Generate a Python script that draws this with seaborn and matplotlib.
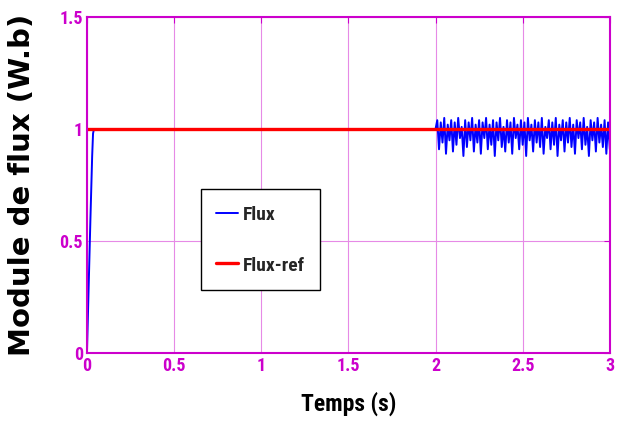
import numpy as np
import pandas as pd
import matplotlib
matplotlib.use("Agg")
import matplotlib.pyplot as plt
from matplotlib import font_manager
import seaborn as sns

# start-up of the flux (s, W.b)
t_rise = [0.0, 0.01, 0.02, 0.03, 0.035, 0.04, 2.0]
flux_rise = [0.0, 0.30, 0.60, 0.88, 0.98, 1.0, 1.0]

# ripple after t = 2 s, one sample every 10 ms
flux_ripple = [1.00, 1.04, 0.91, 1.03, 0.94, 1.05, 0.89, 1.02, 0.95, 1.04, 0.90,
               1.03, 0.93, 1.05, 0.96, 1.01, 0.88, 1.04, 0.92, 1.03, 0.95,
               1.05, 0.90, 1.02, 0.94, 1.04, 0.89, 1.03, 0.96, 1.05, 0.91,
               1.02, 0.93, 1.04, 0.88, 1.03, 0.95, 1.05, 0.92, 1.01, 0.90,
               1.04, 0.94, 1.03, 0.89, 1.05, 0.96, 1.02, 0.91, 1.04, 0.93,
               1.03, 0.88, 1.05, 0.95, 1.02, 0.90, 1.04, 0.94, 1.03, 0.92,
               1.05, 0.89, 1.01, 0.96, 1.04, 0.91, 1.03, 0.93, 1.05, 0.88,
               1.02, 0.95, 1.04, 0.90, 1.03, 0.94, 1.05, 0.92, 1.02, 0.89,
               1.04, 0.96, 1.03, 0.91, 1.05, 0.93, 1.01, 0.88, 1.04, 0.95,
               1.03, 0.90, 1.05, 0.94, 1.02, 0.92, 1.04, 0.89, 1.03, 0.91]
t_ripple = np.linspace(2.0, 3.0, len(flux_ripple))

t_ref = [0.0, 3.0]
flux_ref = [1.0, 1.0]

x_ticks = [0, 0.5, 1, 1.5, 2, 2.5, 3]
x_ticklabels = ["0", "0.5", "1", "1.5", "2", "2.5", "3"]
y_ticks = [0, 0.5, 1, 1.5]
y_ticklabels = ["0", "0.5", "1", "1.5"]

flux_df = pd.DataFrame({
    "t": list(t_rise) + list(t_ripple[1:]),
    "flux": flux_rise + flux_ripple[1:],
})
ref_df = pd.DataFrame({"t": t_ref, "flux": flux_ref})

sns.set_style("white")

# pick a condensed face if one is installed
installed = {f.name for f in font_manager.fontManager.ttflist}
cands = ["Liberation Sans Narrow", "Roboto Condensed", "Open Sans Condensed",
         "Liberation Sans"]
narrow_name = next((n for n in cands if n in installed), "DejaVu Sans")
narrow = [narrow_name, "DejaVu Sans"]
magenta = "#cc00cc"

fig = plt.figure(figsize=(6.21, 4.28), dpi=100)
ax = fig.add_axes([0.140, 0.175, 0.842, 0.785])

sns.lineplot(data=flux_df, x="t", y="flux", ax=ax, color="#0000ff", lw=1.4,
             sort=False, estimator=None, label="Flux")
sns.lineplot(data=ref_df, x="t", y="flux", ax=ax, color="#ff0000", lw=2.4,
             sort=False, estimator=None, label="Flux-ref")

ax.set_xlim(0, 3)
ax.set_ylim(0, 1.5)
ax.set_xticks(x_ticks)
ax.set_xticklabels(x_ticklabels)
ax.set_yticks(y_ticks)
ax.set_yticklabels(y_ticklabels)
ax.grid(True, color="#e68ae6", lw=0.8)
for s in ax.spines.values():
    s.set_color(magenta)
    s.set_linewidth(1.5)
ax.tick_params(direction="in", length=4, color=magenta, labelcolor=magenta,
               top=True, right=True, pad=3)
for lab in ax.get_xticklabels() + ax.get_yticklabels():
    lab.set_family(narrow)
    lab.set_fontweight("bold")
    lab.set_fontsize(13)

ax.set_xlabel("Temps (s)", family=narrow, fontweight="bold", fontsize=17,
              color="black", labelpad=12)
ax.set_ylabel("Module de flux (W.b)", family="DejaVu Sans", fontweight="heavy",
              fontsize=21, color="black")
ax.yaxis.set_label_coords(-0.098, 0.5)

leg = ax.legend(loc="lower left", bbox_to_anchor=(0.218, 0.187),
                prop={"family": narrow, "weight": "bold", "size": 14},
                frameon=True, fancybox=False, edgecolor="black",
                handlelength=1.1, handletextpad=0.25, labelspacing=1.6,
                handleheight=1.0, borderpad=0.8, borderaxespad=0)
leg.get_frame().set_linewidth(1.0)
leg.get_frame().set_alpha(1.0)

fig.savefig("out.png", dpi=100)
